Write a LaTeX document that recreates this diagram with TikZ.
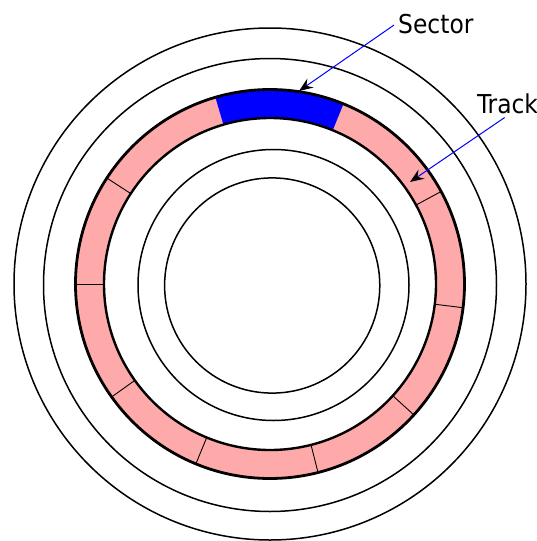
\documentclass[tikz,border=0pt]{standalone}
\usepackage{fontspec}
\newfontfamily\labfont{DejaVu Sans Condensed}
\usetikzlibrary{arrows.meta}
\definecolor{trackpink}{RGB}{255,170,170}
\definecolor{sectorblue}{RGB}{0,0,255}
\tikzset{
  ring/.style={draw=black, line width=1.5pt},
  bandline/.style={draw=black, line width=2.8pt},
  divider/.style={draw=black, line width=0.9pt},
  lab/.style={font=\labfont\fontsize{26}{30}\selectfont, inner sep=0pt, anchor=base west},
  pointer/.style={draw=sectorblue, line width=1pt, -{Stealth[black, length=14pt, width=11pt, inset=5pt]}}
}
\begin{document}
\begin{tikzpicture}[x=1pt, y=1pt]
\useasboundingbox (0,0) rectangle (537,-541);
\begin{scope}
\clip (0,0) rectangle (537,-541);
% pink track band
\fill[trackpink, even odd rule] (270,-284) circle (194.5) (270,-284) circle (166);
% blue sector
\begin{scope}[shift={(270,-284)}]
\fill[sectorblue] (67.8:194.5) arc (67.8:106.3:194.5) -- (106.3:166) arc (106.3:67.8:166) -- cycle;
\foreach \a in {28.4,147,180,215.5,247.6,284.3,317.7,353} {
  \draw[divider] (\a:166) -- (\a:194.5);
}
\end{scope}
% circles
\draw[ring] (270,-284) circle (256);
\draw[ring] (270,-285) circle (226.5);
\draw[bandline] (270,-284) circle (194.5);
\draw[bandline, line width=2.4pt] (270,-284) circle (166);
\draw[ring] (273.5,-285) circle (135.5);
\draw[ring] (272.2,-285.5) circle (107.6);
\end{scope}
% labels
\node[lab] (sec) at (398,-33) {Sector};
\node[lab] (trk) at (477,-113) {Track};
\coordinate (sectip) at (299,-91);
\coordinate (trktip) at (410,-182);
\draw[pointer] ([xshift=-4pt,yshift=-1.5pt]sec.west) -- (sectip);
\draw[pointer] ([xshift=-3pt,yshift=-4pt]trk.south) -- (trktip);
\end{tikzpicture}
\end{document}
